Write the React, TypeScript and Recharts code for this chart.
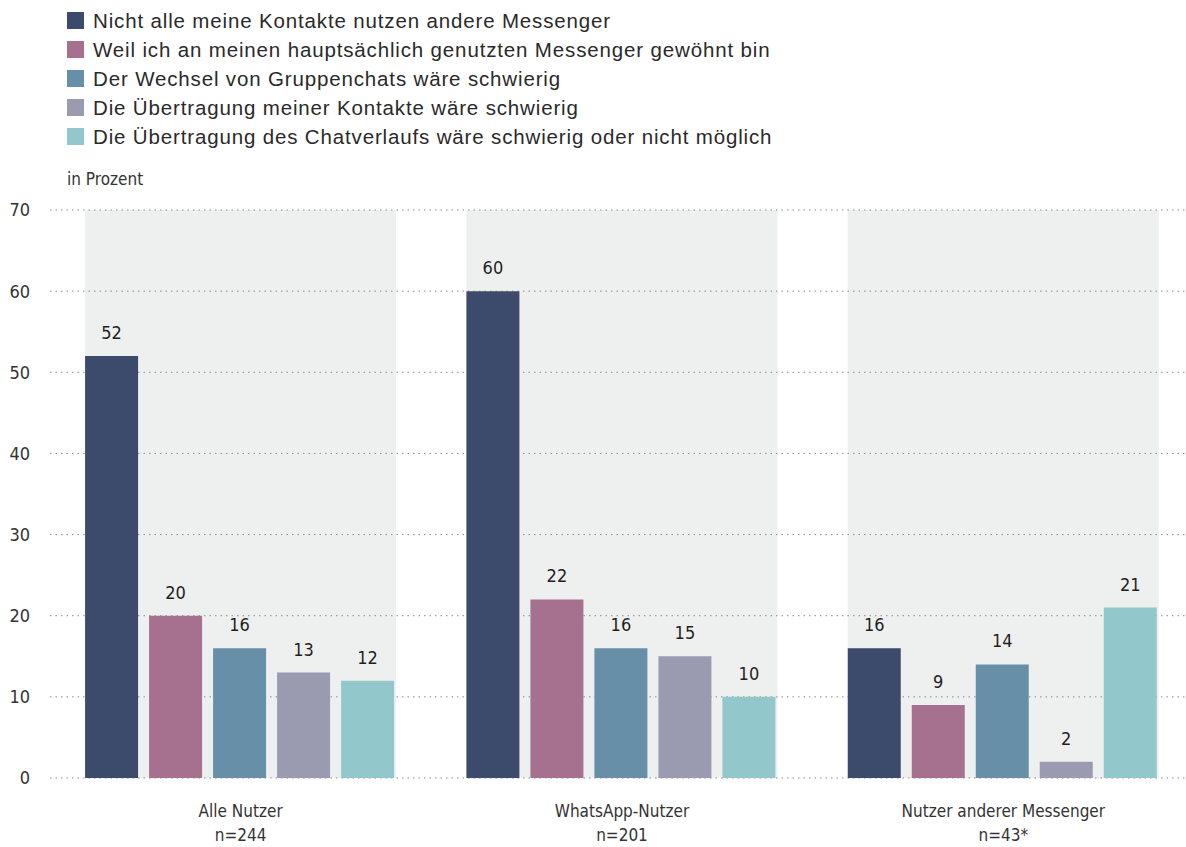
import {
  Bar,
  BarChart,
  CartesianGrid,
  LabelList,
  XAxis,
  YAxis,
} from "recharts";

// Reasons for not switching messenger, by user group (in percent).
const categories = ["Alle Nutzer", "WhatsApp-Nutzer", "Nutzer anderer Messenger"];
const sampleSizes = ["n=244", "n=201", "n=43*"];

const kontakteNutzenAndere = [52, 60, 16];
const gewoehnt = [20, 22, 9];
const gruppenchats = [16, 16, 14];
const kontakteUebertragung = [13, 15, 2];
const chatverlauf = [12, 10, 21];
// grey panel behind each group reaches the top of the scale
const panelTop = [70, 70, 70];

const seriesKeys = ["kontakte", "gewoehnt", "gruppen", "uebertragung", "verlauf"];
const seriesNames = [
  "Nicht alle meine Kontakte nutzen andere Messenger",
  "Weil ich an meinen hauptsächlich genutzten Messenger gewöhnt bin",
  "Der Wechsel von Gruppenchats wäre schwierig",
  "Die Übertragung meiner Kontakte wäre schwierig",
  "Die Übertragung des Chatverlaufs wäre schwierig oder nicht möglich",
];
const seriesColors = ["#3c4a6c", "#a5718f", "#6790a8", "#9a9bb0", "#92c7cc"];
const yTicks = [0, 10, 20, 30, 40, 50, 60, 70];

const data = categories.map((name, i) => ({
  name,
  panel: panelTop[i],
  kontakte: kontakteNutzenAndere[i],
  gewoehnt: gewoehnt[i],
  gruppen: gruppenchats[i],
  uebertragung: kontakteUebertragung[i],
  verlauf: chatverlauf[i],
}));

const NARROW = '"Liberation Sans Narrow", "DejaVu Sans Condensed", sans-serif';
const REGULAR = '"Liberation Sans", Arial, sans-serif';

function GroupTick({ x, y, payload, index }: any) {
  return (
    <g>
      <text x={x} y={y + 39} textAnchor="middle" fontSize={17} fill="#333" fontFamily={NARROW}>
        {payload.value}
      </text>
      <text x={x} y={y + 63} textAnchor="middle" fontSize={17} fill="#333" fontFamily={NARROW}>
        {sampleSizes[index]}
      </text>
    </g>
  );
}

function Legend() {
  return (
    <div style={{ position: "absolute", left: 67, top: 6, fontFamily: REGULAR }}>
      {seriesNames.map((name, i) => (
        <div
          key={name}
          style={{
            display: "flex",
            alignItems: "center",
            height: 29,
            fontSize: 20.5,
            letterSpacing: 0.85,
            color: "#2a2a2a",
            whiteSpace: "nowrap",
          }}
        >
          <span
            style={{ width: 17, height: 17, background: seriesColors[i], marginRight: 9, flexShrink: 0 }}
          />
          {name}
        </div>
      ))}
    </div>
  );
}

export default function App() {
  return (
    <div
      style={{
        position: "absolute",
        left: 0,
        top: 0,
        width: 1186,
        height: 847,
        overflow: "hidden",
        background: "#fff",
      }}
    >
      <Legend />
      <div
        style={{
          position: "absolute",
          left: 67,
          top: 169,
          fontSize: 17,
          color: "#333",
          fontFamily: NARROW,
        }}
      >
        in Prozent
      </div>
      <div style={{ position: "absolute", left: 0, top: 0 }}>
        <BarChart
          width={1200}
          height={847}
          data={data}
          margin={{ top: 210, right: 6, bottom: 0, left: 0 }}
          barCategoryGap="9.2%"
          barGap={11}
        >
          <XAxis xAxisId="panel" dataKey="name" hide />
          <Bar
            xAxisId="panel"
            dataKey="panel"
            fill="#eef0ef"
            legendType="none"
            isAnimationActive={false}
            {...({ zIndex: -200 } as any)}
          />
          <CartesianGrid
            vertical={false}
            stroke="#8a8a8a"
            strokeDasharray="1.5 4"
            horizontalValues={yTicks}
          />
          <XAxis
            dataKey="name"
            axisLine={false}
            tickLine={false}
            tickSize={0}
            tickMargin={0}
            height={69}
            tick={<GroupTick />}
            interval={0}
          />
          <YAxis
            domain={[0, 70]}
            ticks={yTicks}
            width={50}
            axisLine={false}
            tickLine={false}
            tickSize={0}
            tickMargin={20}
            tick={{ fontSize: 18, fill: "#333", fontFamily: NARROW }}
          />
          {seriesKeys.map((key, i) => (
            <Bar key={key} dataKey={key} name={seriesNames[i]} fill={seriesColors[i]} isAnimationActive={false}>
              <LabelList
                dataKey={key}
                position="top"
                offset={17}
                fontSize={18}
                fontWeight={500}
                fill="#1f1f1f"
                fontFamily={NARROW}
              />
            </Bar>
          ))}
        </BarChart>
      </div>
    </div>
  );
}
